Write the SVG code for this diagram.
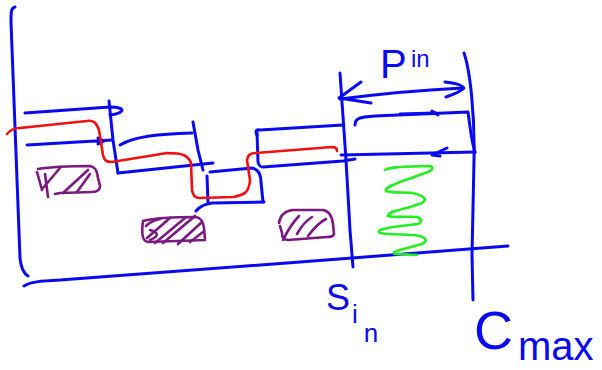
<svg xmlns="http://www.w3.org/2000/svg" width="602" height="370" viewBox="0 0 602 370">
<style>
.b{fill:none;stroke:#0a0af0;stroke-width:3;stroke-linecap:round;stroke-linejoin:round}
.r{fill:none;stroke:#f01010;stroke-width:2.6;stroke-linecap:round;stroke-linejoin:round}
.g{fill:none;stroke:#22ee22;stroke-width:2.6;stroke-linecap:round;stroke-linejoin:round}
.p{fill:none;stroke:#7a1a80;stroke-width:2.6;stroke-linecap:round;stroke-linejoin:round}
.t{fill:#0a0af0;font-family:"Liberation Sans",Arial,sans-serif}
</style>
<rect width="602" height="370" fill="#fff"/>
<g id="axes">
<path class="b" d="M15,7 C11,8 11,12 11,22 L20,258 C21,268 23,273 28,276"/>
<path class="b" d="M24,286 C30,282 40,281 60,280 L300,262 L508,246"/>
</g>
<g id="steps">
<path class="b" d="M25,113 L110,107 C126,107 126,113 110,115"/>
<path class="b" d="M109,101 L113,140 L118,173"/>
<path class="b" d="M27,145 L112,140 M98,138 L104,141 L98,144"/>
<path class="b" d="M120,145 C135,136 160,134 192,133"/>
<path class="b" d="M193,122 L198,150 L203,170"/>
<path class="b" d="M118,173 L213,163"/>
<path class="b" d="M210,172 L252,168 C258,169 261,174 261,182 L263,202"/>
<path class="b" d="M207,176 L208,202"/>
<path class="b" d="M196,211 C200,206 205,204 212,203 L264,202"/>
<path class="b" d="M257,135 C255,131 256,129 260,130 L343,125"/>
<path class="b" d="M257,132 L258,162 C259,166 260,167 263,167 L343,161 L355,159"/>
<path class="b" d="M355,125 C355,119 358,117 375,116 L468,112 C470,125 471,140 475,152"/>
<path class="b" d="M341,155 L475,152"/>
<path class="b" d="M400,114 L436,113 M432,111 L438,115"/>
<path class="b" d="M447,148 L432,155 L440,156"/>
</g>
<g id="verticals">
<path class="b" d="M340,73 L346,160 L350,230 L353,267"/>
<path class="b" d="M464,53 C470,70 475,115 474,160 L472,255 L473,300"/>
</g>
<g id="dimension">
<path class="b" d="M340,99 C380,94 420,90 463,88"/>
<path class="b" d="M361,82 L339,98 L371,103"/>
<path class="b" d="M445,82 C455,83 462,85 464,88 C460,92 452,95 446,97"/>
</g>
<g id="red-line">
<path class="r" d="M7,134 C10,130 14,128 20,128 L87,121 C93,120 96,122 99,130 L103,155 C104,160 106,162 112,162 L167,153 C182,153 188,155 191,163 L192,190 C193,196 195,198 200,198 L233,197 C245,195 249,192 250,180 L247,160 C248,155 250,153 256,153 L332,147 C336,147 337,149 337,151"/>
</g>
<g id="spring">
<path class="g" d="M385,170 C390,167 400,167 430,166 C434,167 433,170 428,172 L400,182 C390,186 385,188 386,191 C390,193 405,192 413,193 C424,196 428,199 422,203 L410,207 C398,210 388,212 388,216 C395,218 410,216 417,217 C422,219 422,222 418,224 L393,227 C384,229 376,230 380,233 C390,235 405,234 413,235 C424,236 430,240 422,244 L400,250 C394,252 392,253 395,254 L417,255"/>
</g>
<g id="block1">
<path class="p" d="M38,169 C50,167 70,166 90,166 C95,167 97,170 98,178 L100,186 C100,190 97,192 92,192 L60,193 L55,194"/>
<path class="p" d="M37,172 L42,190"/>
<path class="p" d="M45,174 L48,197 M43,188 L60,168 M63,193 L88,170 M77,192 L90,174"/>
</g>
<g id="block2">
<path class="p" d="M143,221 C155,218 180,217 196,217 C201,218 203,221 204,228 L205,240 L148,242 C143,241 141,236 143,221"/>
<path class="p" d="M146,226 C150,222 155,220 160,219 M147,238 L170,218 M155,243 L185,218 M163,243 L195,216 M178,244 L202,222 M190,242 L203,232 M150,230 C158,232 160,236 150,240"/>
</g>
<g id="block3">
<path class="p" d="M279,223 C280,215 285,211 293,210 L323,210 C329,211 332,216 333,224 L334,234 C333,237 330,237 327,237 L288,240 C284,240 282,237 282,233 L280,226"/>
<path class="p" d="M283,240 C288,230 293,222 299,216 M297,234 C302,225 307,220 312,217 M308,236 C314,228 320,222 326,219"/>
</g>
<g id="labels">
<text class="t" x="380" y="78" font-size="40">P</text>
<text class="t" x="411" y="67" font-size="24">in</text>
<text class="t" font-size="36" x="326" y="310">S<tspan font-size="26" dx="2" dy="13">i</tspan><tspan font-size="26" dx="6" dy="19">n</tspan></text>
<text class="t" x="474" y="349" font-size="54">C</text>
<text class="t" x="518" y="360" font-size="40">max</text>
</g>
</svg>
